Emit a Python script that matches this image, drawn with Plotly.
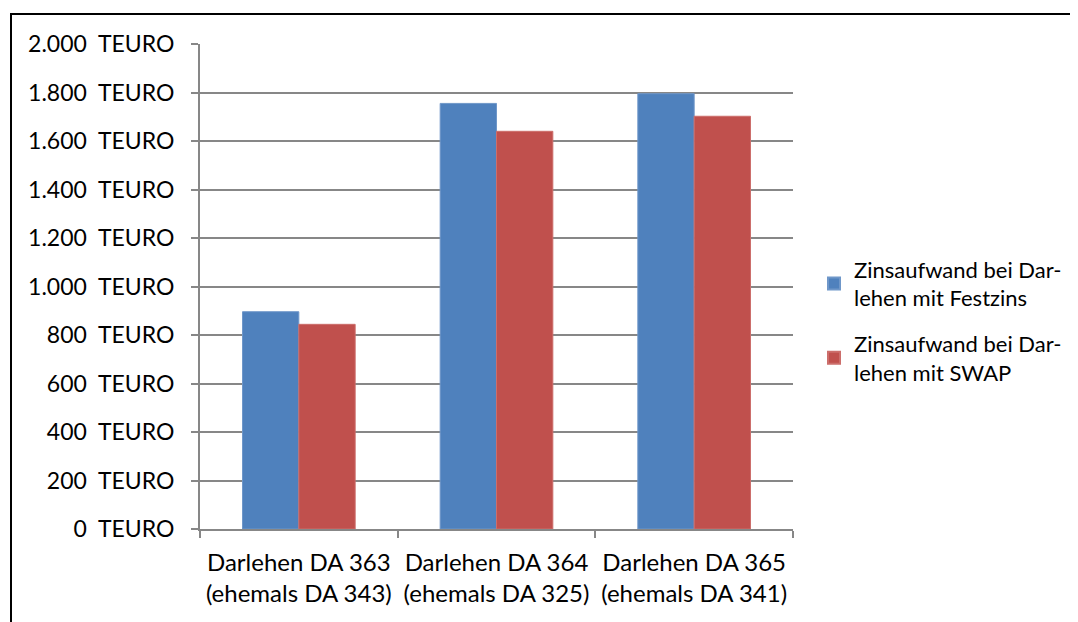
import plotly.graph_objects as go

categories = ["Darlehen DA 363<br>(ehemals DA 343)",
              "Darlehen DA 364<br>(ehemals DA 325)",
              "Darlehen DA 365<br>(ehemals DA 341)"]
festzins = [896, 1755, 1795]
swap = [844, 1640, 1702]
series_names = ["Zinsaufwand bei Dar-<br>lehen mit Festzins",
                "Zinsaufwand bei Dar-<br>lehen mit SWAP"]
tick_vals = [0, 200, 400, 600, 800, 1000, 1200, 1400, 1600, 1800, 2000]
tick_text = ["0  TEURO", "200  TEURO", "400  TEURO", "600  TEURO", "800  TEURO",
             "1.000  TEURO", "1.200  TEURO", "1.400  TEURO", "1.600  TEURO",
             "1.800  TEURO", "2.000  TEURO"]

FONT = "Lato, 'Open Sans', sans-serif"
GRID = "#878787"

# page body has an 8px margin: work in screen coordinates and shift
OFF = 8
W, H = 1078 - OFF, 622 - OFF
L, R, T, B = 200 - OFF, 793 - OFF, 44 - OFF, 529 - OFF


def px(x):
    return (x - OFF - L) / (R - L)


def py(y):
    return (B - (y - OFF)) / (B - T)


fig = go.Figure()
fig.add_trace(go.Bar(x=categories, y=festzins, name=series_names[0], legendgroup="a",
                     marker=dict(color="#4F81BD", line=dict(color="#6f97c9", width=1))))
fig.add_trace(go.Bar(x=categories, y=swap, name=series_names[1], legendgroup="b",
                     marker=dict(color="#C0504D", line=dict(color="#cc6e6b", width=1))))

fig.update_layout(
    width=W, height=H,
    margin=dict(l=L, r=W - R, t=T, b=H - B, autoexpand=False),
    paper_bgcolor="white", plot_bgcolor="white",
    barmode="group", bargap=0.43, bargroupgap=0,
    font=dict(family=FONT, size=22, color="#000000"),
    showlegend=True,
    legend=dict(x=px(814), y=py(321), xanchor="left", yanchor="middle",
                font=dict(family=FONT, size=22, color="#000000"),
                tracegroupgap=14, itemsizing="constant", itemwidth=30,
                bgcolor="rgba(0,0,0,0)"),
    xaxis=dict(type="category", tickson="boundaries", ticks="outside", ticklen=7,
               tickcolor=GRID, tickwidth=2, showline=True, linecolor=GRID, linewidth=2,
               showgrid=False, tickfont=dict(family=FONT, size=24, color="#000000"),
               ticklabelstandoff=11, fixedrange=True),
    yaxis=dict(range=[0, 2000], tickvals=tick_vals, ticktext=tick_text,
               ticks="outside", ticklen=7, tickcolor=GRID, tickwidth=2,
               showline=True, linecolor=GRID, linewidth=2,
               showgrid=True, gridcolor=GRID, gridwidth=2, zeroline=False,
               tickfont=dict(family=FONT, size=23, color="#000000"),
               ticklabelstandoff=12, fixedrange=True),
    shapes=[
        dict(type="line", xref="paper", yref="paper", x0=px(11), x1=px(11),
             y0=py(14), y1=py(630), line=dict(color="black", width=2)),
        dict(type="line", xref="paper", yref="paper", x0=px(10), x1=px(1090),
             y0=py(14), y1=py(14), line=dict(color="black", width=2)),
    ],
)

fig.write_html("out.html")
